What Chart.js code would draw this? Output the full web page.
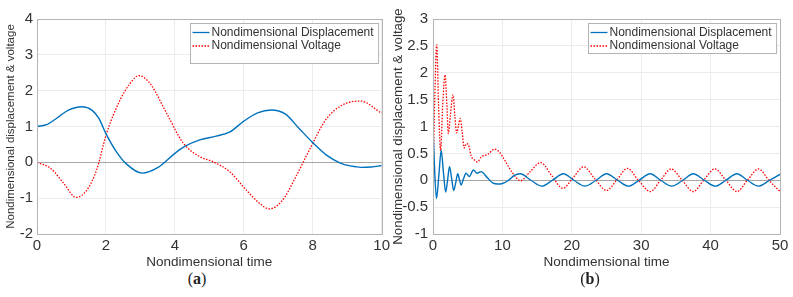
<!DOCTYPE html>
<html>
<head>
<meta charset="utf-8">
<script src="https://cdn.jsdelivr.net/npm/chart.js@4.4.1/dist/chart.umd.min.js"></script>
<style>
  body { margin: 0; background: #fff; width: 793px; height: 297px; overflow: hidden; position: relative; }
  canvas { position: absolute; top: 0; }
  #ca { left: 0; }
  #cb { left: 385px; }
  .lbl { position: absolute; top: 270px; font: 16px "Liberation Serif", serif; color: #222; transform: translateX(-50%); }
</style>
</head>
<body>
<canvas id="ca" width="393" height="270"></canvas>
<canvas id="cb" width="408" height="270"></canvas>
<div class="lbl" style="left:197px">(<b>a</b>)</div>
<div class="lbl" style="left:590px">(<b>b</b>)</div>
<script>
// ---- panel (a) ----
var timeA = [0, 0.3, 0.6, 0.9, 1.3, 1.6, 1.8, 2.0, 2.3, 2.6, 3.05, 3.5, 4.0, 4.3, 4.7, 5.2, 5.6, 6.0, 6.4, 6.8, 7.2, 7.6, 8.0, 8.4, 8.8, 9.1, 9.4, 9.7, 10];
var dispA = [1.0, 1.06, 1.25, 1.45, 1.55, 1.45, 1.22, 0.8, 0.3, -0.05, -0.3, -0.15, 0.25, 0.45, 0.62, 0.73, 0.85, 1.15, 1.38, 1.46, 1.35, 0.95, 0.55, 0.2, -0.02, -0.1, -0.14, -0.13, -0.09];
var timeVoltA = [0, 0.4, 0.77, 1.14, 1.45, 1.73, 2.02, 2.41, 2.7, 2.95, 3.28, 3.76, 4.24, 4.72, 5.1, 5.59, 6.07, 6.45, 6.74, 7.13, 7.51, 7.9, 8.38, 8.86, 9.39, 10];
var voltA = [0, -0.17, -0.58, -0.98, -0.77, -0.21, 0.81, 1.74, 2.2, 2.42, 2.2, 1.37, 0.54, 0.16, 0.02, -0.26, -0.77, -1.14, -1.3, -1.05, -0.4, 0.34, 1.19, 1.6, 1.71, 1.37];
var xTicksA = [0, 2, 4, 6, 8, 10];
var yTicksA = [-2, -1, 0, 1, 2, 3, 4];

// ---- panel (b) ----
var timeDispB = [0, 0.2, 0.5, 0.85, 1.18, 1.5, 1.83, 2.1, 2.38, 2.7, 2.98, 3.3, 3.56, 3.8, 4.06, 4.4, 4.76, 5.24, 5.82, 6.34, 6.92, 7.88, 8.6, 9.32, 10.0, 10.9, 11.7, 12.6,
  14.1, 15.7, 17.2, 18.8, 20.3, 21.9, 23.5, 25.0, 26.6, 28.2, 29.7, 31.3, 32.8, 34.4, 36.0, 37.5, 39.1, 40.7, 42.2, 43.8, 45.3, 46.9, 48.5, 50];
var dispB = [1.0, 0.3, -0.34, 0.1, 0.56, 0.15, -0.22, 0.0, 0.25, 0.02, -0.19, -0.03, 0.12, 0.02, -0.09, 0.03, 0.13, 0.07, 0.19, 0.13, 0.16, 0.04, -0.05, -0.07, -0.06, 0.0, 0.09, 0.12,
  0.0, -0.11, 0.0, 0.12, 0.0, -0.11, 0.0, 0.12, 0.0, -0.11, 0.0, 0.12, 0.0, -0.11, 0.0, 0.12, 0.0, -0.11, 0.0, 0.12, 0.0, -0.11, 0.0, 0.11];
var timeVoltB = [0, 0.25, 0.53, 0.8, 1.1, 1.4, 1.73, 2.0, 2.21, 2.5, 2.88, 3.15, 3.4, 3.65, 3.94, 4.2, 4.5, 4.8, 5.1, 5.5, 5.95, 6.4, 7.0, 7.9, 8.85, 9.6, 10.3, 11.5, 12.6,
  14.0, 15.5, 17.1, 18.7, 20.2, 21.7, 23.3, 25.0, 26.5, 28.0, 29.6, 31.3, 32.8, 34.3, 35.9, 37.5, 39.0, 40.6, 42.2, 43.8, 45.3, 46.9, 48.4, 50];
var voltB = [0, 1.5, 2.52, 1.4, 0.55, 1.4, 1.96, 1.4, 0.87, 1.2, 1.59, 1.2, 0.88, 1.0, 1.15, 0.9, 0.6, 0.68, 0.66, 0.45, 0.38, 0.34, 0.44, 0.48, 0.58, 0.52, 0.38, 0.13, -0.01,
  0.16, 0.33, 0.09, -0.15, 0.05, 0.25, 0.03, -0.19, 0.01, 0.22, 0.0, -0.21, 0.0, 0.21, 0.0, -0.21, 0.0, 0.21, 0.0, -0.21, 0.0, 0.21, 0.0, -0.21];
var xTicksB = [0, 10, 20, 30, 40, 50];
var yTicksB = [-1, -0.5, 0, 0.5, 1, 1.5, 2, 2.5, 3];

var seriesNames = ["Nondimensional Displacement", "Nondimensional Voltage"];
var blue = "#0072BD";
var red = "#FF0000";

function pts(xs, ys) {
  return xs.map(function(x, i) { return {x: x, y: ys[i]}; });
}

// box around axes + legend box inside top right
var boxPlugin = {
  id: "boxLegend",
  afterDraw: function(chart, args, opts) {
    var c = chart.ctx, a = chart.chartArea;
    c.save();
    c.strokeStyle = "#b4b4b4";
    c.lineWidth = 1;
    c.strokeRect(Math.round(a.left) + 0.5, Math.round(a.top) + 0.5, Math.round(a.right - a.left), Math.round(a.bottom - a.top));

    c.font = "12px 'Liberation Sans', Arial, sans-serif";
    var tw = Math.max(c.measureText(seriesNames[0]).width, c.measureText(seriesNames[1]).width);
    var w = tw + 26, h = opts.h;
    var x0 = Math.round(a.right - 4 - w) + 0.5, y0 = Math.round(a.top + 4) + 0.5;
    c.fillStyle = "#fff";
    c.fillRect(x0, y0, w, h);
    c.strokeStyle = "#b4b4b4";
    c.strokeRect(x0, y0, w, h);
    c.textBaseline = "middle";
    chart.data.datasets.forEach(function(ds, i) {
      var yy = y0 + 9 + i * 13.5;
      c.strokeStyle = ds.borderColor;
      c.lineWidth = 1.3;
      c.setLineDash(ds.borderDash || []);
      c.beginPath();
      c.moveTo(x0 + 2, yy);
      c.lineTo(x0 + 19, yy);
      c.stroke();
      c.setLineDash([]);
      c.fillStyle = "#333";
      c.fillText(ds.label, x0 + 21, yy);
    });
    c.restore();
  }
};

function makeChart(id, cfg) {
  return new Chart(document.getElementById(id), {
    type: "line",
    data: {
      datasets: [
        { label: seriesNames[0], data: pts(cfg.tDisp, cfg.disp), borderColor: blue, borderWidth: 1.4,
          pointRadius: 0, cubicInterpolationMode: "monotone", fill: false },
        { label: seriesNames[1], data: pts(cfg.tVolt, cfg.volt), borderColor: red, borderWidth: 1.3,
          borderDash: [1.5, 1.5], pointRadius: 0, cubicInterpolationMode: "monotone", fill: false }
      ]
    },
    options: {
      responsive: false,
      animation: false,
      devicePixelRatio: 1,
      layout: { padding: { top: 19, right: cfg.padRight, left: 0, bottom: 0 } },
      plugins: {
        legend: { display: false },
        tooltip: { enabled: false },
        boxLegend: { h: cfg.legendH }
      },
      scales: {
        x: {
          type: "linear", min: cfg.xTicks[0], max: cfg.xTicks[cfg.xTicks.length - 1],
          afterBuildTicks: function(s) { s.ticks = cfg.xTicks.map(function(v) { return {value: v}; }); },
          afterFit: function(s) { s.height = 36; },
          grid: { color: "#ebebeb", drawTicks: false },
          border: { display: false },
          ticks: { padding: 3, color: "#333", font: { family: "'Liberation Sans', Arial, sans-serif", size: 15 },
                   maxRotation: 0, autoSkip: false, callback: function(v) { return String(v); } },
          title: { display: true, text: "Nondimensional time", color: "#333", padding: { top: 0, bottom: 0 },
                   font: { family: "'Liberation Sans', Arial, sans-serif", size: 13.5 } }
        },
        y: {
          min: cfg.yTicks[0], max: cfg.yTicks[cfg.yTicks.length - 1],
          afterBuildTicks: function(s) { s.ticks = cfg.yTicks.map(function(v) { return {value: v}; }); },
          afterFit: function(s) { s.width = cfg.yWidth; },
          grid: { drawTicks: false, color: function(ctx) { return ctx.tick && ctx.tick.value === 0 ? "#a6a6a6" : "#ebebeb"; } },
          border: { display: false },
          ticks: { padding: cfg.yPad, color: "#333", font: { family: "'Liberation Sans', Arial, sans-serif", size: 15 },
                   autoSkip: false, callback: function(v) { return String(v); } },
          title: { display: true, text: "Nondimensional displacement & voltage", color: "#333",
                   padding: { top: cfg.yTitlePad, bottom: 0 },
                   font: { family: "'Liberation Sans', Arial, sans-serif", size: cfg.yTitleSize } }
        }
      }
    },
    plugins: [boxPlugin]
  });
}

makeChart("ca", { tDisp: timeA, disp: dispA, tVolt: timeVoltA, volt: voltA, xTicks: xTicksA, yTicks: yTicksA,
  padRight: 10, yWidth: 37, yPad: 4, yTitlePad: 4, yTitleSize: 11.5, legendH: 40 });
makeChart("cb", { tDisp: timeDispB, disp: dispB, tVolt: timeVoltB, volt: voltB, xTicks: xTicksB, yTicks: yTicksB,
  padRight: 13, yWidth: 48, yPad: 5, yTitlePad: 5, yTitleSize: 13.3, legendH: 30 });
</script>
</body>
</html>
